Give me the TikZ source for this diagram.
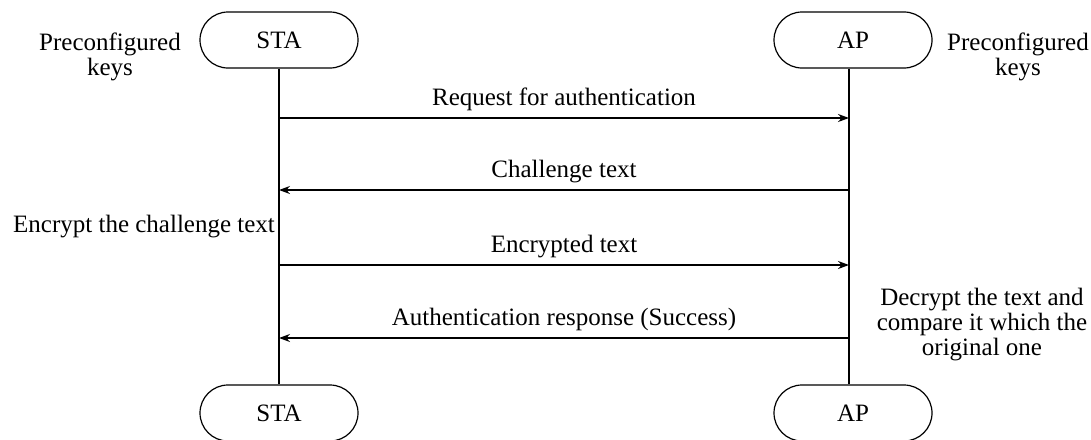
\documentclass[tikz,border=0pt]{standalone}
\usepackage{fontspec}
\setmainfont{Liberation Serif}
\usetikzlibrary{arrows.meta}
\begin{document}
\begin{tikzpicture}[x=1pt,y=-1pt,
  every node/.style={font=\fontsize{25}{25}\selectfont},
  lane/.style={draw, line width=1.2pt, rounded corners=28pt, minimum width=158pt, minimum height=56pt, inner sep=0pt},
  life/.style={line width=1.2pt},
  msg/.style={line width=1.2pt, -{Stealth[length=11pt,width=8pt]}},
  note/.style={align=center, inner sep=0pt}]
\useasboundingbox (0,0) rectangle (1091,439);
\node[lane] (sta) at (279,40) {STA};
\node[lane] (ap) at (853,40) {AP};
\node[lane] (stab) at (279,413) {STA};
\node[lane] (apb) at (853,413) {AP};
\node[note] (kl) at (110,57) {Preconfigured\\keys};
\node[note] (kr) at (1018,57) {Preconfigured\\keys};
\node[note] (enc) at (144,227) {Encrypt the challenge text};
\node[note] (dec) at (982,325) {Decrypt the text and\\compare it which the\\original one};
\coordinate (s1) at (279,118); \coordinate (a1) at (849,118);
\coordinate (s2) at (279,190); \coordinate (a2) at (849,190);
\coordinate (s3) at (279,265); \coordinate (a3) at (849,265);
\coordinate (s4) at (279,338); \coordinate (a4) at (849,338);
\draw[life] (sta.south -| s1) -- (stab.north -| s1);
\draw[life] (ap.south -| a1) -- (apb.north -| a1);
\draw[msg] (s1) -- node[above=7pt, inner sep=0pt] (l1) {Request for authentication} (a1);
\draw[msg] (a2) -- node[above=7pt, inner sep=0pt] (l2) {Challenge text} (s2);
\draw[msg] (s3) -- node[above=7pt, inner sep=0pt] (l3) {Encrypted text} (a3);
\draw[msg] (a4) -- node[above=7pt, inner sep=0pt] (l4) {Authentication response (Success)} (s4);
\end{tikzpicture}
\end{document}
